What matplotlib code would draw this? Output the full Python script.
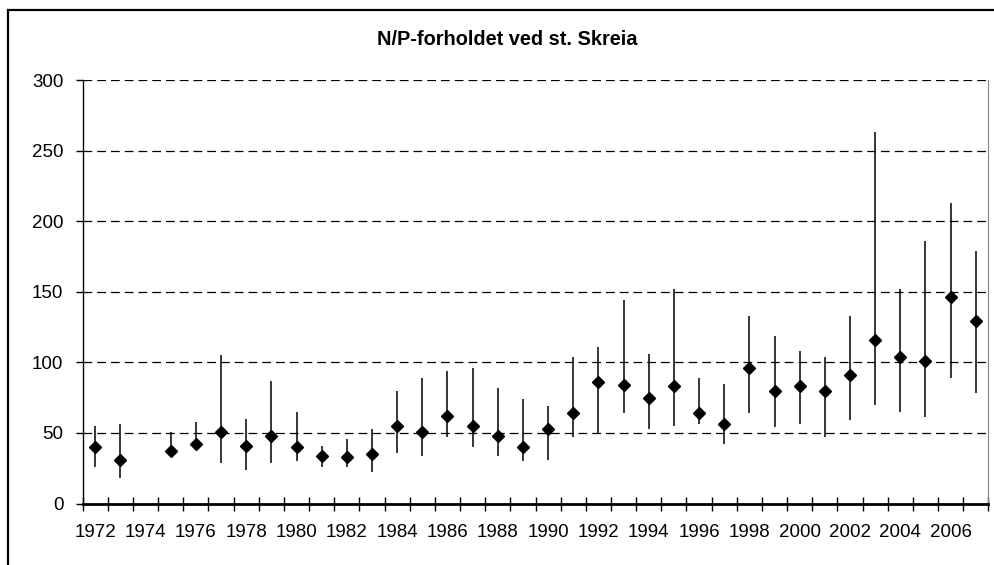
import numpy as np
import matplotlib
matplotlib.use("Agg")
from matplotlib import pyplot as plt
from matplotlib.patches import Rectangle

plt.rcParams['font.family'] = ['Liberation Sans', 'DejaVu Sans']

# N/P ratio at st. Skreia, yearly mean with min/max range (1974 missing)
years = list(range(1972, 2008))
mean_np = [40, 31, np.nan, 37, 42, 51, 41, 48, 40, 34, 33, 35,
           55, 51, 62, 55, 48, 40, 53, 64, 86, 84, 75, 83,
           64, 56, 96, 80, 83, 80, 91, 116, 104, 101, 146, 129]
low_np = [26, 18, np.nan, 37, 38, 29, 24, 29, 30, 26, 26, 22,
          36, 34, 47, 40, 34, 30, 31, 47, 50, 64, 53, 55,
          56, 42, 64, 54, 56, 47, 59, 70, 65, 61, 89, 78]
high_np = [55, 56, np.nan, 51, 58, 105, 60, 87, 65, 41, 46, 53,
           80, 89, 94, 96, 82, 74, 69, 104, 111, 144, 106, 152,
           89, 85, 133, 119, 108, 104, 133, 263, 152, 186, 213, 179]
title = "N/P-forholdet ved st. Skreia"

mean_np = np.array(mean_np, dtype=float)
low_np = np.array(low_np, dtype=float)
high_np = np.array(high_np, dtype=float)
x = np.arange(len(years)) + 0.5

fig = plt.figure(figsize=(9.94, 5.65), dpi=100)
ax = fig.add_axes([0.0832, 0.1088, 0.9111, 0.7496])

# outer chart frame (runs off the picture on the right and bottom)
fig.patches.append(Rectangle((8 / 994, -0.2), 1.2, 1.2 - 10 / 565,
                             transform=fig.transFigure, fill=False,
                             edgecolor='black', lw=1.6, clip_on=False))

for yv in range(50, 301, 50):
    ax.axhline(yv, color='black', lw=0.9, ls=(0, (7, 4)), zorder=1)

ax.vlines(x, low_np, high_np, color='black', lw=1.1, zorder=2)
ax.plot(x, mean_np, 'D', color='black', markersize=6.4, ls='none', zorder=3)

ax.set_xlim(0, len(years))
ax.set_ylim(0, 300)

ax.set_xticks(np.arange(len(years) + 1))
ax.set_xticklabels([])
ax.set_xticks(x[::2], minor=True)
ax.set_xticklabels([str(y) for y in years[::2]], minor=True)
ax.tick_params(axis='x', which='major', direction='inout', length=10, width=1)
ax.tick_params(axis='x', which='minor', length=0, pad=15, labelsize=13.5)

ax.set_yticks(range(0, 301, 50))
ax.tick_params(axis='y', direction='out', length=5, width=1, pad=9, labelsize=13.5)

ax.spines['top'].set_visible(False)
ax.spines['right'].set_color('#808080')
ax.spines['left'].set_linewidth(1)
ax.spines['bottom'].set_linewidth(2)

fig.text(507 / 994, 1 - 39.5 / 565, title, ha='center', va='center',
         fontsize=14.4, fontweight='bold')

fig.savefig('out.png', dpi=100)
